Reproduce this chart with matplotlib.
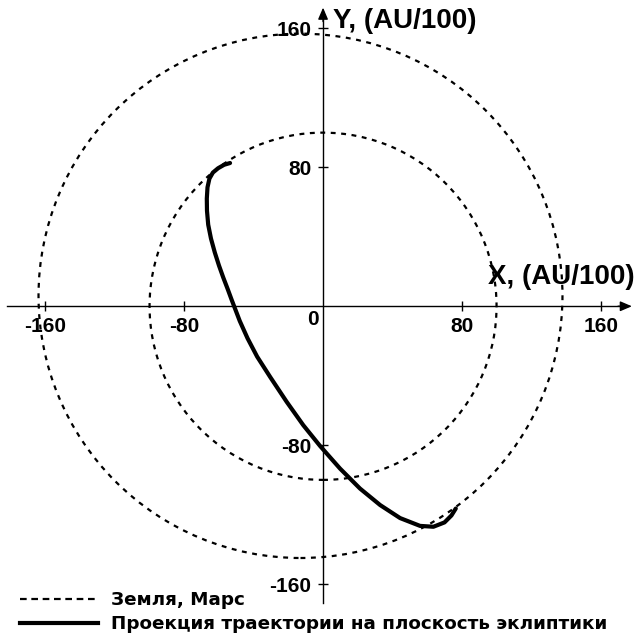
import matplotlib
matplotlib.use("Agg")
import matplotlib.pyplot as plt
from matplotlib.patches import Circle
from matplotlib.lines import Line2D

# Orbits (AU/100): Earth centred on the Sun, Mars orbit centre shifted by its eccentricity
earth_center = (0.0, 0.0)
earth_radius = 100.0
mars_center = (-13.0, 6.0)
mars_radius = 151.0

# Projection of the spacecraft trajectory onto the ecliptic plane (AU/100)
traj_x = [-53.6, -57.0, -60.5, -63.5, -65.5, -66.6, -67.0, -66.9, -66.2, -64.6,
          -62.4, -60.0, -57.5, -55.0, -52.6, -48.0, -43.5, -38.0, -30.5, -21.0,
          -11.4, -1.7, 9.8, 21.3, 32.9, 44.4, 55.9, 63.6, 70.0, 74.0, 76.5]
traj_y = [82.5, 81.5, 79.5, 77.0, 73.5, 68.5, 62.0, 55.0, 47.0, 39.0,
          31.0, 23.5, 16.5, 10.0, 3.5, -8.5, -18.5, -29.0, -40.7, -55.0,
          -68.5, -80.5, -93.5, -105.0, -114.5, -122.0, -126.5, -127.0, -124.5, -120.5, -116.5]

ticks = [-160, -80, 80, 160]
legend_labels = ["Земля, Марс", "Проекция траектории на плоскость эклиптики"]

fig = plt.figure(figsize=(6.35, 6.37), dpi=100)
ax = fig.add_axes([0, 0, 1, 1])
ax.set_xlim(-186.2, 179.8)
ax.set_ylim(-190.5, 176.4)
ax.set_facecolor("white")

# Axes through the origin
for side in ("top", "right"):
    ax.spines[side].set_visible(False)
ax.spines["left"].set_position(("data", 0))
ax.spines["bottom"].set_position(("data", 0))
ax.spines["bottom"].set_bounds(-182, 176)
ax.spines["left"].set_bounds(-171, 170)
for side in ("left", "bottom"):
    ax.spines[side].set_linewidth(1.0)
    ax.spines[side].set_zorder(1)

tick_font = dict(family=["Liberation Sans", "DejaVu Sans"], weight="bold", size=15)
ax.set_xticks(ticks)
ax.set_yticks(ticks)
ax.set_xticklabels([str(t) for t in ticks], **tick_font)
ax.set_yticklabels([str(t) for t in ticks], **tick_font)
ax.tick_params(axis="both", direction="inout", length=7, width=1.0, color="black")
ax.tick_params(axis="x", pad=4)
ax.tick_params(axis="y", pad=5)
ax.annotate("0", xy=(0, 0), xytext=(-3, -3), textcoords="offset points",
            ha="right", va="top", **tick_font)

# Arrow heads
ax.annotate("", xy=(178, 0), xytext=(170, 0),
            arrowprops=dict(arrowstyle="-|>,head_length=0.7,head_width=0.3",
                            color="black", lw=1.0, shrinkA=0, shrinkB=0))
ax.annotate("", xy=(0, 172), xytext=(0, 164),
            arrowprops=dict(arrowstyle="-|>,head_length=0.7,head_width=0.3",
                            color="black", lw=1.0, shrinkA=0, shrinkB=0))

label_font = dict(family=["Liberation Sans", "DejaVu Sans"], weight="bold", size=20)
ax.annotate("X, (AU/100)", xy=(178, 0), xytext=(2, 16), textcoords="offset points",
            ha="right", va="baseline", **label_font)
ax.annotate("Y, (AU/100)", xy=(0, 160), xytext=(7, 0), textcoords="offset points",
            ha="left", va="baseline", **label_font)

orbit_style = dict(fill=False, color="black", lw=1.6, linestyle=(0, (2.2, 2.5)))
ax.add_patch(Circle(earth_center, earth_radius, **orbit_style))
ax.add_patch(Circle(mars_center, mars_radius, **orbit_style))

ax.plot(traj_x, traj_y, color="black", lw=3.0, solid_joinstyle="round",
        solid_capstyle="round", zorder=3)

handles = [Line2D([], [], color="black", lw=1.6, linestyle=(0, (3.0, 2.1))),
           Line2D([], [], color="black", lw=3.0)]
leg = ax.legend(handles, legend_labels, loc="lower left",
                bbox_to_anchor=(0.025, 0.0), frameon=False,
                prop=dict(family="DejaVu Sans", weight="bold", size=13.2),
                handlelength=4.3, handletextpad=0.7, labelspacing=0.32,
                borderaxespad=0.2, borderpad=0.0)

fig.savefig("out.png", dpi=100, facecolor="white")
